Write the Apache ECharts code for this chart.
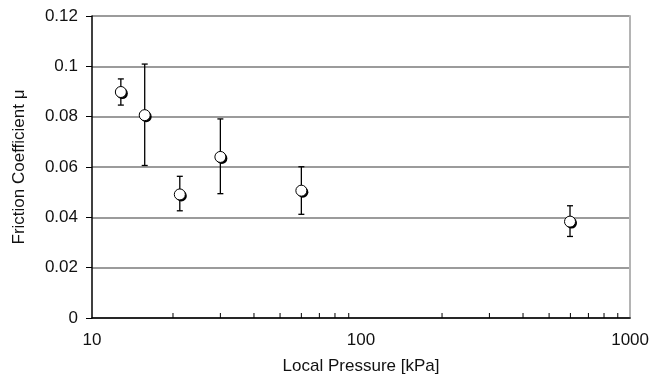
<!DOCTYPE html>
<html>
<head>
<meta charset="utf-8">
<script src="https://cdn.jsdelivr.net/npm/echarts@6/dist/echarts.min.js"></script>
<style>
  html, body { margin: 0; padding: 0; background: #fff; }
  #chartDiv { width: 652px; height: 380px; }
</style>
</head>
<body>
<div id="chartDiv"></div>
<script>
    // 数据：局部压力 (kPa) 与摩擦系数
    var pressure = [12.8, 15.7, 21.2, 30, 60, 598];
    var friction = [0.0898, 0.0806, 0.0491, 0.0640, 0.0506, 0.0383];
    var errLow = [0.0846, 0.0606, 0.0426, 0.0494, 0.0412, 0.0324];
    var errHigh = [0.0950, 0.1009, 0.0563, 0.0791, 0.0601, 0.0446];
    var minorTicks = [20, 30, 40, 50, 60, 70, 80, 90, 200, 300, 400, 500, 600, 700, 800, 900];

    var pointData = pressure.map(function (p, i) { return [p, friction[i]]; });
    var errData = pressure.map(function (p, i) { return [p, errLow[i], errHigh[i]]; });
    var tickData = minorTicks.map(function (t) { return [t, 0]; });

    var chart = echarts.init(document.getElementById('chartDiv'));
    var fontName = 'Liberation Sans, Arial, sans-serif';

    chart.setOption({
        animation: false,
        grid: { left: 92, right: 21, top: 16, bottom: 57 },
        xAxis: {
            type: 'log',
            logBase: 10,
            min: 10,
            max: 1000,
            name: 'Local Pressure [kPa]',
            nameLocation: 'middle',
            nameGap: 40,
            nameTextStyle: { fontFamily: fontName, fontSize: 17, color: '#111' },
            axisLine: { lineStyle: { color: '#000', width: 1.5 } },
            axisTick: { show: false },
            axisLabel: {
                fontFamily: fontName, fontSize: 17, color: '#111', margin: 14,
                formatter: function (v) { return String(Math.round(v)); }
            },
            splitLine: { show: false }
        },
        yAxis: [{
            type: 'value',
            min: 0,
            max: 0.12,
            interval: 0.02,
            name: 'Friction Coefficient μ',
            nameLocation: 'middle',
            nameGap: 64,
            nameTextStyle: { fontFamily: fontName, fontSize: 17, color: '#111' },
            axisLine: { show: true, lineStyle: { color: '#000', width: 1.5 } },
            axisTick: { show: true, inside: false, length: 6, lineStyle: { color: '#000' } },
            axisLabel: {
                fontFamily: fontName, fontSize: 17, color: '#111', margin: 14,
                formatter: function (v) { return v === 0 ? '0' : String(+v.toFixed(2)); }
            },
            splitLine: { show: true, lineStyle: { color: '#7a7a7a', width: 1.5 } }
        }, {
            type: 'value',
            position: 'right',
            min: 0,
            max: 0.12,
            axisLine: { show: true, lineStyle: { color: '#b4b4b4', width: 2 } },
            axisTick: { show: false },
            axisLabel: { show: false },
            splitLine: { show: false }
        }],
        series: [{
            // x 轴次刻度
            type: 'custom',
            silent: true,
            data: tickData,
            renderItem: function (params, api) {
                var p = api.coord([api.value(0), 0]);
                return {
                    type: 'line',
                    shape: { x1: p[0], y1: p[1], x2: p[0], y2: p[1] - 5 },
                    style: { stroke: '#000', lineWidth: 1 }
                };
            },
            z: 1
        }, {
            // 误差棒
            type: 'custom',
            silent: true,
            data: errData,
            renderItem: function (params, api) {
                var lo = api.coord([api.value(0), api.value(1)]);
                var hi = api.coord([api.value(0), api.value(2)]);
                var w = 3;
                var st = { stroke: '#000', lineWidth: 1.3 };
                return {
                    type: 'group',
                    children: [
                        { type: 'line', shape: { x1: lo[0], y1: lo[1], x2: hi[0], y2: hi[1] }, style: st },
                        { type: 'line', shape: { x1: lo[0] - w, y1: lo[1], x2: lo[0] + w, y2: lo[1] }, style: st },
                        { type: 'line', shape: { x1: hi[0] - w, y1: hi[1], x2: hi[0] + w, y2: hi[1] }, style: st }
                    ]
                };
            },
            z: 2
        }, {
            // 阴影圆
            type: 'scatter',
            data: pointData,
            symbol: 'circle',
            symbolSize: 11,
            symbolOffset: [1.5, 1.5],
            itemStyle: { color: '#000', opacity: 1 },
            z: 3
        }, {
            type: 'scatter',
            data: pointData,
            symbol: 'circle',
            symbolSize: 11,
            itemStyle: { color: '#fff', borderColor: '#000', borderWidth: 1, opacity: 1 },
            z: 4
        }]
    });
</script>
</body>
</html>
